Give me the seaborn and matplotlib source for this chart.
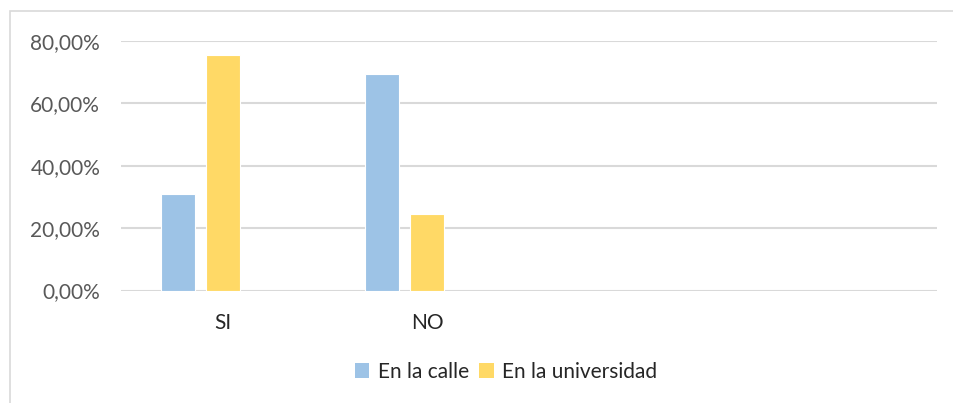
import matplotlib
matplotlib.use("Agg")
import matplotlib.pyplot as plt
import seaborn as sns
import pandas as pd
import numpy as np
from matplotlib.patches import Rectangle, Patch
from matplotlib.ticker import FuncFormatter

categories = ["SI", "NO", " ", "  "]
series = ["En la calle", "En la universidad", "   "]
calle = [0.308, 0.692]
universidad = [0.754, 0.246]
colors = ["#9DC3E6", "#FFD966", "#A5A5A5"]

rows = []
for c, v in zip(categories[:2], calle):
    rows.append({"cat": c, "serie": series[0], "val": v})
for c, v in zip(categories[:2], universidad):
    rows.append({"cat": c, "serie": series[1], "val": v})
df = pd.DataFrame(rows)

sns.set_style("white")
plt.rcParams["font.family"] = ["Lato", "DejaVu Sans"]

fig = plt.figure(figsize=(9.54, 4.03), dpi=100)
ax = fig.add_axes([121/954, 1-290.5/403, (937-121)/954, (290.5-40.7)/403])

sns.barplot(data=df, x="cat", y="val", hue="serie", order=categories,
            hue_order=series, palette=colors, width=0.662, gap=0.244,
            saturation=1, edgecolor="white", linewidth=0.8, errorbar=None,
            ax=ax, legend=False)

ax.set_ylim(0, 0.8)
ax.set_xlim(-0.5, 3.5)
ax.set_yticks([0, 0.2, 0.4, 0.6, 0.8])
ax.yaxis.set_major_formatter(FuncFormatter(lambda v, p: f"{v*100:.2f}%".replace(".", ",")))
ax.grid(axis="y", color="#D9D9D9", linewidth=1.5)
ax.set_axisbelow(True)
for s in ax.spines.values():
    s.set_visible(False)
ax.tick_params(axis="y", length=0, pad=15, labelsize=15, labelcolor="#595959")
ax.tick_params(axis="x", length=0, pad=16, labelsize=15, labelcolor="#262626")
ax.set_xlabel("")
ax.set_ylabel("")

handles = [Patch(facecolor=colors[0], edgecolor="none"),
           Patch(facecolor=colors[1], edgecolor="none")]
fig.legend(handles, series[:2], loc="center", bbox_to_anchor=(506/954, 1-372/403),
           ncol=2, frameon=False, fontsize=15, handlelength=0.7, handleheight=0.7,
           handletextpad=0.4, columnspacing=0.5, labelcolor="#262626")

fig.patches.append(Rectangle((10/954, -0.2), 1.2, 1.2 - 11/403,
                             transform=fig.transFigure, fill=False,
                             edgecolor="#D9D9D9", linewidth=1.2))

fig.savefig("out.png", dpi=100, facecolor="white")
